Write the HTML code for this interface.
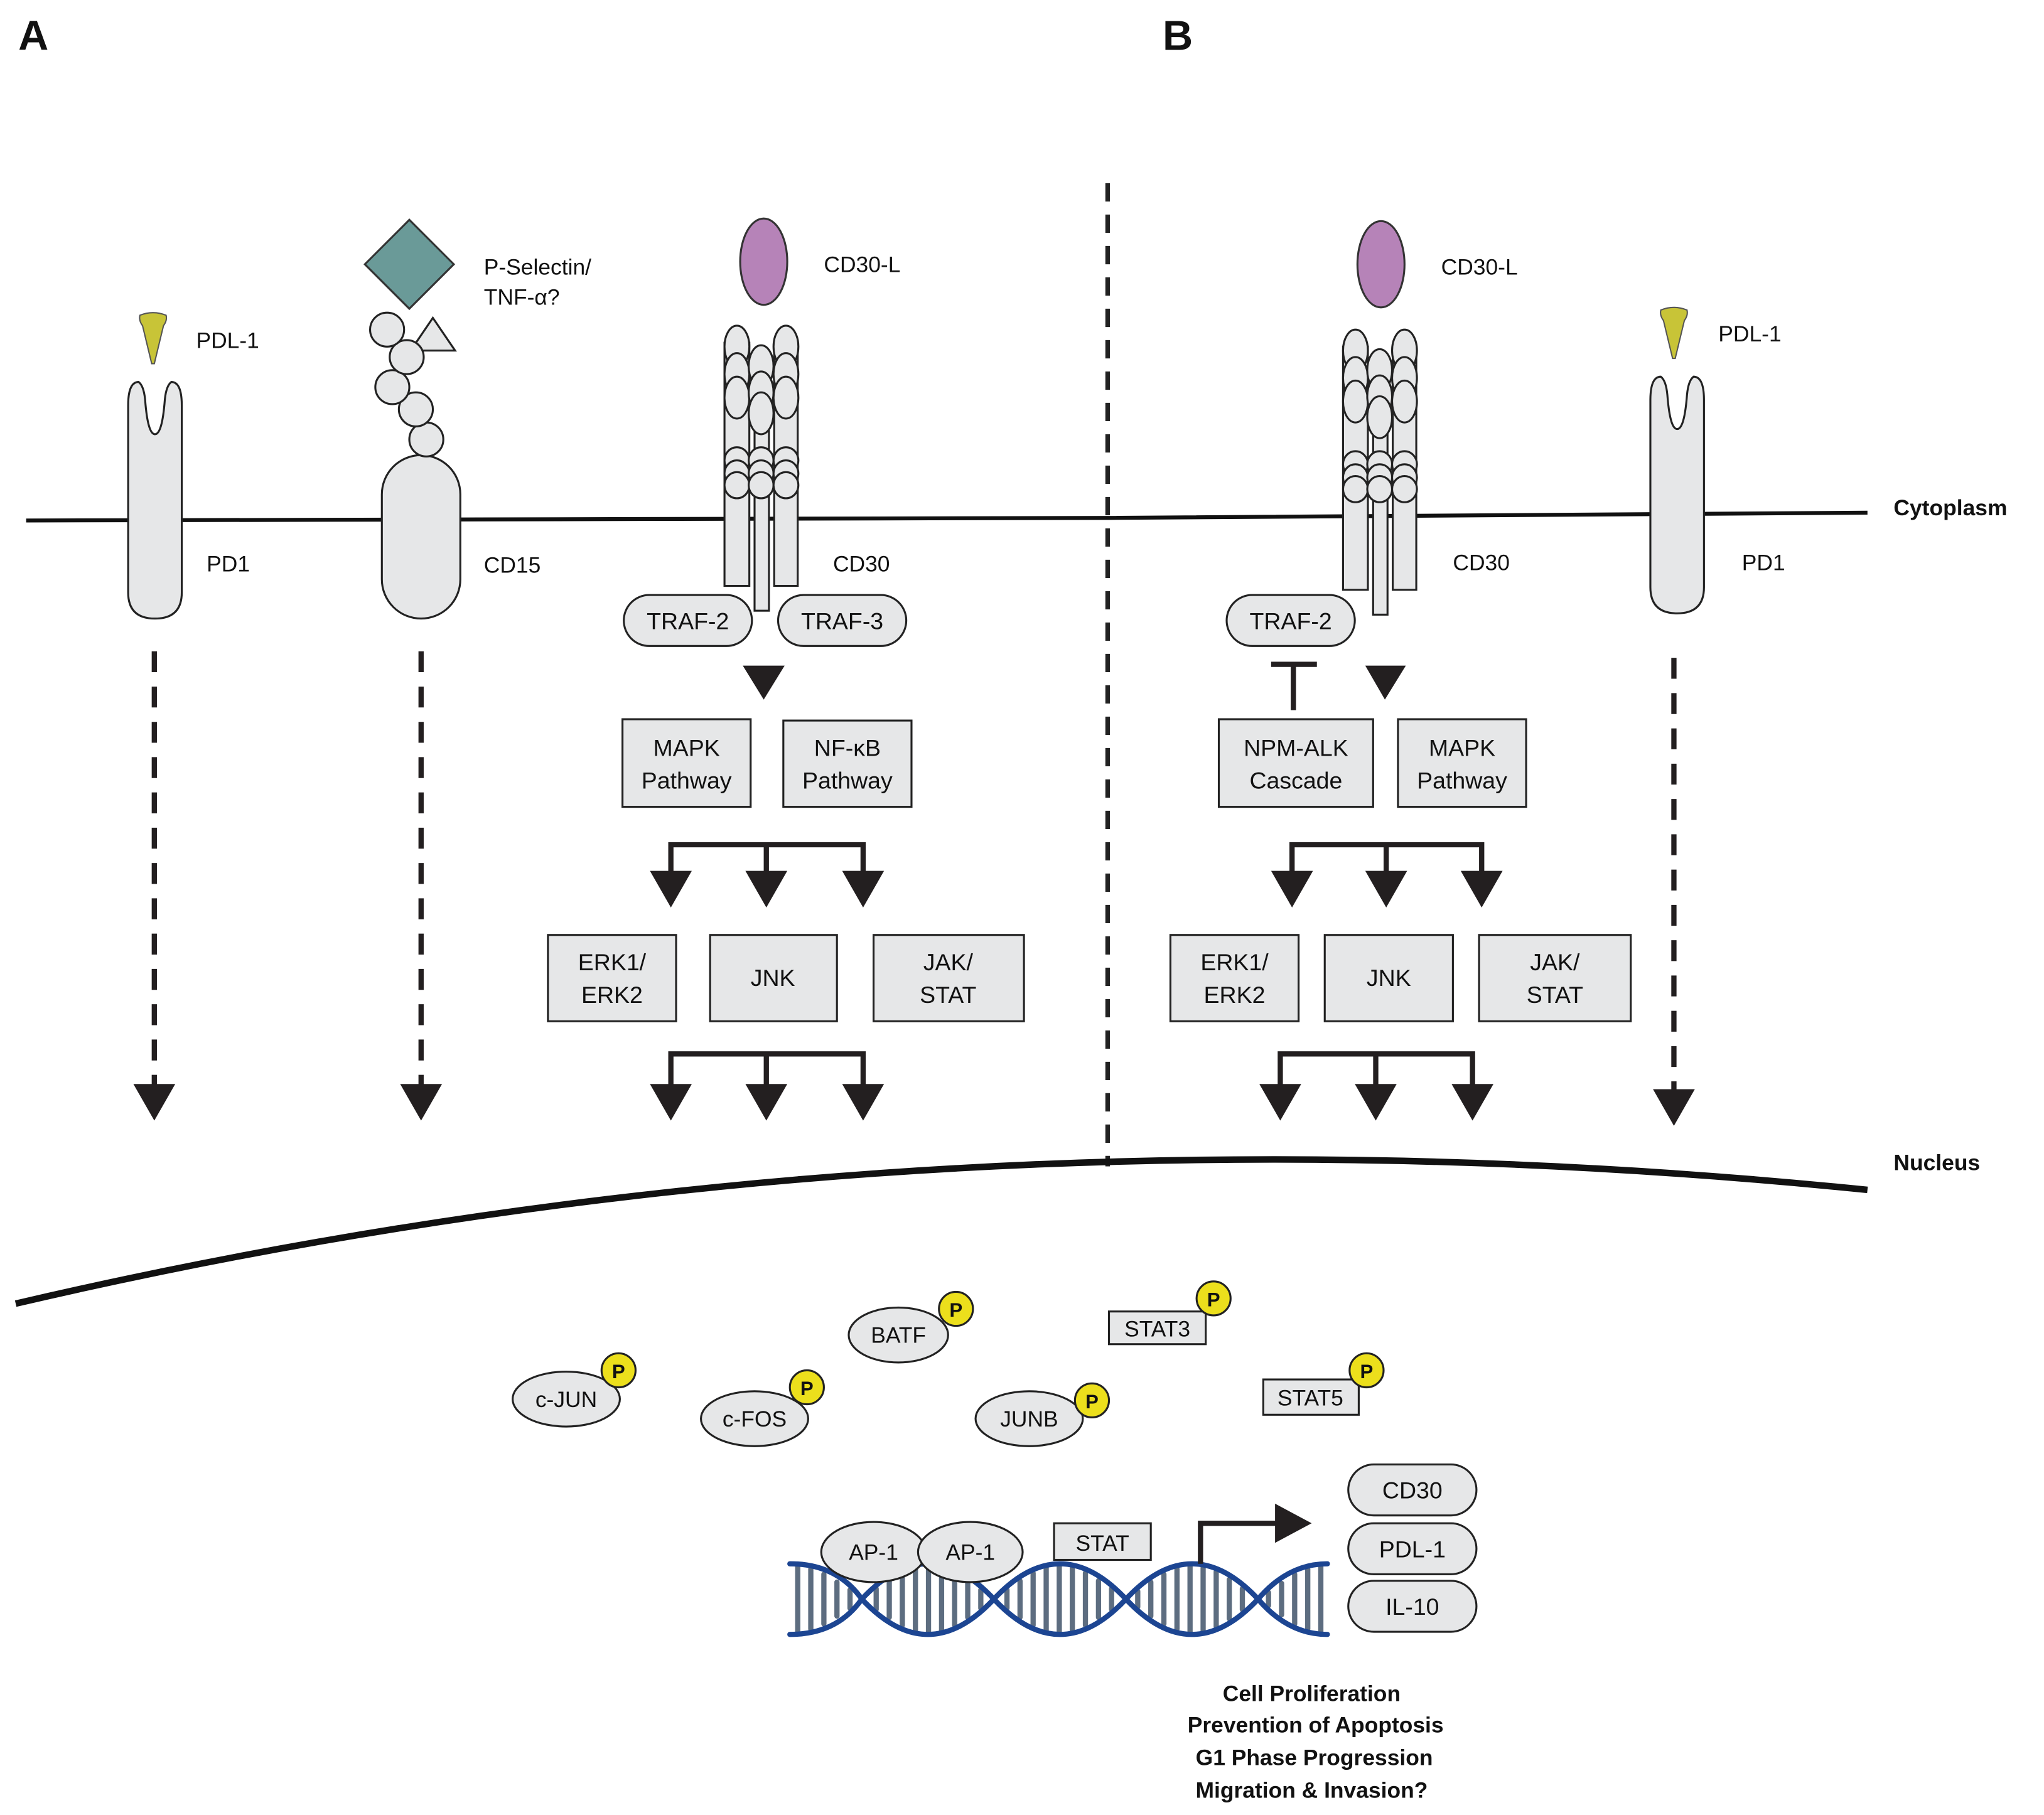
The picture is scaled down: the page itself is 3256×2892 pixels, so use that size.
<!DOCTYPE html>
<html><head><meta charset="utf-8"><style>
html,body{margin:0;padding:0;background:#fff;}
svg{display:block;}
text{font-family:"Liberation Sans",Arial,sans-serif;fill:#111;}
</style></head><body>
<svg width="3256" height="2892" viewBox="0 0 1563 1388" xmlns="http://www.w3.org/2000/svg">
<defs>
<g id="cd30">
 <rect x="554" y="262" width="19" height="186" fill="#e6e7e8" stroke="#222" stroke-width="1.5"/>
 <rect x="592" y="262" width="18" height="186" fill="#e6e7e8" stroke="#222" stroke-width="1.5"/>
 <rect x="577" y="290" width="11" height="177" fill="#e6e7e8" stroke="#222" stroke-width="1.5"/>
 <g fill="#e6e7e8" stroke="#222" stroke-width="1.5">
  <ellipse cx="563.5" cy="265" rx="9.5" ry="16"/><ellipse cx="601" cy="265" rx="9.5" ry="16"/>
  <ellipse cx="563.5" cy="286" rx="9.5" ry="16"/><ellipse cx="601" cy="286" rx="9.5" ry="16"/>
  <ellipse cx="582" cy="280" rx="9.5" ry="16"/>
  <ellipse cx="563.5" cy="304" rx="9.5" ry="16"/><ellipse cx="601" cy="304" rx="9.5" ry="16"/>
  <ellipse cx="582" cy="300" rx="9.5" ry="16"/>
  <ellipse cx="582" cy="316" rx="9.5" ry="16"/>
  <ellipse cx="563.5" cy="352" rx="9.5" ry="10"/><ellipse cx="582" cy="352" rx="9.5" ry="10"/><ellipse cx="601" cy="352" rx="9.5" ry="10"/>
  <ellipse cx="563.5" cy="362" rx="9.5" ry="10"/><ellipse cx="582" cy="362" rx="9.5" ry="10"/><ellipse cx="601" cy="362" rx="9.5" ry="10"/>
  <ellipse cx="563.5" cy="371" rx="9.5" ry="10"/><ellipse cx="582" cy="371" rx="9.5" ry="10"/><ellipse cx="601" cy="371" rx="9.5" ry="10"/>
 </g>
</g>
<path id="pd1" d="M0,161 L0,18 Q0,0 8,0 Q12,3 13,14 Q15,40 20.5,40 Q26,40 28,14 Q29,3 33,0 Q41,0 41,18 L41,161 Q41,181 20.5,181 Q0,181 0,161 Z" fill="#e6e7e8" stroke="#222" stroke-width="1.5"/>
<path id="pdl" d="M-10,0 Q0,-4 10,0 Q11,4 8,8 L1,37 L-1,37 L-8,8 Q-11,4 -10,0 Z" fill="#c8c437" stroke="#555" stroke-width="1"/>
<polygon id="ah" points="-16,0 16,0 0,28" fill="#231f20"/>
</defs>

<text x="14" y="38" font-size="32" font-weight="bold">A</text>
<text x="889" y="38" font-size="32" font-weight="bold">B</text>

<path d="M20,398 L850,396 L1428,392" stroke="#111" stroke-width="3" fill="none"/>
<text x="1448" y="394" font-size="17" font-weight="bold">Cytoplasm</text>
<line x1="847" y1="140" x2="847" y2="892" stroke="#222" stroke-width="3.5" stroke-dasharray="14,10"/>
<path d="M12,997 Q700,836 1428,910" stroke="#111" stroke-width="5" fill="none"/>
<text x="1448" y="895" font-size="17" font-weight="bold">Nucleus</text>

<use href="#pd1" x="98" y="292"/>
<use href="#pdl" x="117" y="241"/>
<text x="150" y="266" font-size="17">PDL-1</text>
<text x="158" y="437" font-size="17">PD1</text>

<rect x="292" y="348" width="60" height="125" rx="30" fill="#e6e7e8" stroke="#222" stroke-width="1.5"/>
<g fill="#e6e7e8" stroke="#222" stroke-width="1.5">
<circle cx="326" cy="336" r="13"/><circle cx="318" cy="313" r="13"/><circle cx="300" cy="296" r="13"/>
<polygon points="314,268 348,268 331,243"/>
<circle cx="311" cy="273" r="13"/><circle cx="296" cy="252" r="13"/>
</g>
<polygon points="313,168 347,202 313,236 279,202" fill="#6a9a98" stroke="#333" stroke-width="1.5"/>
<text x="370" y="210" font-size="17">P-Selectin/</text>
<text x="370" y="233" font-size="17">TNF-α?</text>
<text x="370" y="438" font-size="17">CD15</text>

<ellipse cx="584" cy="200" rx="18" ry="33" fill="#b683b8" stroke="#333" stroke-width="1.5"/>
<use href="#cd30"/>
<text x="630" y="208" font-size="17">CD30-L</text>
<text x="637" y="437" font-size="17">CD30</text>

<ellipse cx="1056" cy="202" rx="18" ry="33" fill="#b683b8" stroke="#333" stroke-width="1.5"/>
<use href="#cd30" x="473" y="3"/>
<text x="1102" y="210" font-size="17">CD30-L</text>
<text x="1111" y="436" font-size="17">CD30</text>

<use href="#pd1" x="1262" y="288"/>
<use href="#pdl" x="1280" y="237"/>
<text x="1314" y="261" font-size="17">PDL-1</text>
<text x="1332" y="436" font-size="17">PD1</text>

<g font-size="18" text-anchor="middle">
<rect x="477" y="455" width="98" height="39" rx="19.5" fill="#e6e7e8" stroke="#222" stroke-width="1.5"/>
<text x="526" y="481">TRAF-2</text>
<rect x="595" y="455" width="98" height="39" rx="19.5" fill="#e6e7e8" stroke="#222" stroke-width="1.5"/>
<text x="644" y="481">TRAF-3</text>
<polygon points="568,509 600,509 584,535" fill="#231f20"/>
<rect x="476" y="550" width="98" height="67" fill="#e6e7e8" stroke="#222" stroke-width="1.5"/>
<text x="525" y="578">MAPK</text><text x="525" y="603">Pathway</text>
<rect x="599" y="551" width="98" height="66" fill="#e6e7e8" stroke="#222" stroke-width="1.5"/>
<text x="648" y="578">NF-κB</text><text x="648" y="603">Pathway</text>
<path d="M513,668 L513,646 L660,646 L660,668 M586,646 L586,668" stroke="#231f20" stroke-width="4" fill="none"/>
<use href="#ah" x="513" y="666"/><use href="#ah" x="586" y="666"/><use href="#ah" x="660" y="666"/>
<rect x="419" y="715" width="98" height="66" fill="#e6e7e8" stroke="#222" stroke-width="1.5"/>
<text x="468" y="742">ERK1/</text><text x="468" y="767">ERK2</text>
<rect x="543" y="715" width="97" height="66" fill="#e6e7e8" stroke="#222" stroke-width="1.5"/>
<text x="591" y="754">JNK</text>
<rect x="668" y="715" width="115" height="66" fill="#e6e7e8" stroke="#222" stroke-width="1.5"/>
<text x="725" y="742">JAK/</text><text x="725" y="767">STAT</text>
<path d="M513,831 L513,806 L660,806 L660,831 M586,806 L586,831" stroke="#231f20" stroke-width="4" fill="none"/>
<use href="#ah" x="513" y="829"/><use href="#ah" x="586" y="829"/><use href="#ah" x="660" y="829"/>

<rect x="938" y="455" width="98" height="39" rx="19.5" fill="#e6e7e8" stroke="#222" stroke-width="1.5"/>
<text x="987" y="481">TRAF-2</text>
<path d="M989,543 L989,508 M972,508 L1007,508" stroke="#231f20" stroke-width="4" fill="none"/>
<polygon points="1044,509 1075,509 1059,535" fill="#231f20"/>
<rect x="932" y="550" width="118" height="67" fill="#e6e7e8" stroke="#222" stroke-width="1.5"/>
<text x="991" y="578">NPM-ALK</text><text x="991" y="603">Cascade</text>
<rect x="1069" y="550" width="98" height="67" fill="#e6e7e8" stroke="#222" stroke-width="1.5"/>
<text x="1118" y="578">MAPK</text><text x="1118" y="603">Pathway</text>
<path d="M988,668 L988,646 L1133,646 L1133,668 M1060,646 L1060,668" stroke="#231f20" stroke-width="4" fill="none"/>
<use href="#ah" x="988" y="666"/><use href="#ah" x="1060" y="666"/><use href="#ah" x="1133" y="666"/>
<rect x="895" y="715" width="98" height="66" fill="#e6e7e8" stroke="#222" stroke-width="1.5"/>
<text x="944" y="742">ERK1/</text><text x="944" y="767">ERK2</text>
<rect x="1013" y="715" width="98" height="66" fill="#e6e7e8" stroke="#222" stroke-width="1.5"/>
<text x="1062" y="754">JNK</text>
<rect x="1131" y="715" width="116" height="66" fill="#e6e7e8" stroke="#222" stroke-width="1.5"/>
<text x="1189" y="742">JAK/</text><text x="1189" y="767">STAT</text>
<path d="M979,831 L979,806 L1126,806 L1126,831 M1052,806 L1052,831" stroke="#231f20" stroke-width="4" fill="none"/>
<use href="#ah" x="979" y="829"/><use href="#ah" x="1052" y="829"/><use href="#ah" x="1126" y="829"/>
</g>

<g stroke="#231f20" stroke-width="4" stroke-dasharray="16,11">
<line x1="118" y1="498" x2="118" y2="830"/>
<line x1="322" y1="498" x2="322" y2="830"/>
<line x1="1280" y1="503" x2="1280" y2="834"/>
</g>
<use href="#ah" x="118" y="829"/><use href="#ah" x="322" y="829"/><use href="#ah" x="1280" y="833"/>

<g font-size="17" text-anchor="middle">
<ellipse cx="433" cy="1070" rx="41" ry="21" fill="#e6e7e8" stroke="#222" stroke-width="1.5"/><text x="433" y="1076">c-JUN</text>
<ellipse cx="577" cy="1085" rx="41" ry="21" fill="#e6e7e8" stroke="#222" stroke-width="1.5"/><text x="577" y="1091">c-FOS</text>
<ellipse cx="687" cy="1021" rx="38" ry="21" fill="#e6e7e8" stroke="#222" stroke-width="1.5"/><text x="687" y="1027">BATF</text>
<ellipse cx="787" cy="1085" rx="41" ry="21" fill="#e6e7e8" stroke="#222" stroke-width="1.5"/><text x="787" y="1091">JUNB</text>
<rect x="848" y="1003" width="74" height="25" fill="#e6e7e8" stroke="#222" stroke-width="1.5"/><text x="885" y="1022">STAT3</text>
<rect x="966" y="1055" width="73" height="27" fill="#e6e7e8" stroke="#222" stroke-width="1.5"/><text x="1002" y="1075">STAT5</text>
</g>
<g font-size="15" font-weight="bold" text-anchor="middle">
<circle cx="473" cy="1048" r="13" fill="#ecdf1c" stroke="#222" stroke-width="1.5"/><text x="473" y="1054">P</text>
<circle cx="617" cy="1061" r="13" fill="#ecdf1c" stroke="#222" stroke-width="1.5"/><text x="617" y="1067">P</text>
<circle cx="731" cy="1001" r="13" fill="#ecdf1c" stroke="#222" stroke-width="1.5"/><text x="731" y="1007">P</text>
<circle cx="835" cy="1071" r="13" fill="#ecdf1c" stroke="#222" stroke-width="1.5"/><text x="835" y="1077">P</text>
<circle cx="928" cy="993" r="13" fill="#ecdf1c" stroke="#222" stroke-width="1.5"/><text x="928" y="999">P</text>
<circle cx="1045" cy="1048" r="13" fill="#ecdf1c" stroke="#222" stroke-width="1.5"/><text x="1045" y="1054">P</text>
</g>

<g stroke="#5d6d80" stroke-width="4" stroke-linecap="round">
<line x1="610" y1="1198" x2="610" y2="1248"/>
<line x1="620" y1="1200" x2="620" y2="1246"/>
<line x1="630" y1="1204" x2="630" y2="1242"/>
<line x1="640" y1="1210" x2="640" y2="1236"/>
<line x1="650" y1="1216" x2="650" y2="1230"/>
<line x1="670" y1="1215" x2="670" y2="1231"/>
<line x1="680" y1="1209" x2="680" y2="1237"/>
<line x1="690" y1="1203" x2="690" y2="1243"/>
<line x1="700" y1="1199" x2="700" y2="1247"/>
<line x1="710" y1="1198" x2="710" y2="1248"/>
<line x1="720" y1="1199" x2="720" y2="1247"/>
<line x1="730" y1="1203" x2="730" y2="1243"/>
<line x1="740" y1="1209" x2="740" y2="1237"/>
<line x1="750" y1="1216" x2="750" y2="1230"/>
<line x1="770" y1="1216" x2="770" y2="1230"/>
<line x1="780" y1="1209" x2="780" y2="1237"/>
<line x1="790" y1="1203" x2="790" y2="1243"/>
<line x1="800" y1="1199" x2="800" y2="1247"/>
<line x1="810" y1="1198" x2="810" y2="1248"/>
<line x1="820" y1="1199" x2="820" y2="1247"/>
<line x1="830" y1="1203" x2="830" y2="1243"/>
<line x1="840" y1="1209" x2="840" y2="1237"/>
<line x1="850" y1="1215" x2="850" y2="1231"/>
<line x1="870" y1="1217" x2="870" y2="1229"/>
<line x1="880" y1="1210" x2="880" y2="1236"/>
<line x1="890" y1="1204" x2="890" y2="1242"/>
<line x1="900" y1="1200" x2="900" y2="1246"/>
<line x1="910" y1="1198" x2="910" y2="1248"/>
<line x1="920" y1="1199" x2="920" y2="1247"/>
<line x1="930" y1="1202" x2="930" y2="1244"/>
<line x1="940" y1="1208" x2="940" y2="1238"/>
<line x1="950" y1="1215" x2="950" y2="1231"/>
<line x1="970" y1="1218" x2="970" y2="1228"/>
<line x1="980" y1="1211" x2="980" y2="1235"/>
<line x1="990" y1="1204" x2="990" y2="1242"/>
<line x1="1000" y1="1200" x2="1000" y2="1246"/>
<line x1="1010" y1="1198" x2="1010" y2="1248"/>
</g>
<g stroke="#1c4592" stroke-width="4" fill="none" stroke-linecap="round">
<path d="M604,1196 Q640,1196 659,1223 Q709.5,1277 760,1223 Q810.5,1169 861,1223 Q911.5,1277 962,1223 Q985,1196 1015,1196"/>
<path d="M604,1250 Q640,1250 659,1223 Q709.5,1169 760,1223 Q810.5,1277 861,1223 Q911.5,1169 962,1223 Q985,1250 1015,1250"/>
</g>

<g font-size="17" text-anchor="middle">
<ellipse cx="668" cy="1187" rx="40" ry="23" fill="#e6e7e8" stroke="#222" stroke-width="1.5"/><text x="668" y="1193">AP-1</text>
<ellipse cx="742" cy="1187" rx="40" ry="23" fill="#e6e7e8" stroke="#222" stroke-width="1.5"/><text x="742" y="1193">AP-1</text>
<rect x="806" y="1165" width="74" height="28" fill="#e6e7e8" stroke="#222" stroke-width="1.5"/><text x="843" y="1186">STAT</text>
</g>
<path d="M918,1196 L918,1165 L978,1165" stroke="#231f20" stroke-width="4" fill="none"/>
<polygon points="975,1150 1003,1165 975,1180" fill="#231f20"/>

<g font-size="18" text-anchor="middle">
<rect x="1031" y="1120" width="98" height="39" rx="19.5" fill="#e6e7e8" stroke="#222" stroke-width="1.5"/><text x="1080" y="1146">CD30</text>
<rect x="1031" y="1165" width="98" height="39" rx="19.5" fill="#e6e7e8" stroke="#222" stroke-width="1.5"/><text x="1080" y="1191">PDL-1</text>
<rect x="1031" y="1209" width="98" height="39" rx="19.5" fill="#e6e7e8" stroke="#222" stroke-width="1.5"/><text x="1080" y="1235">IL-10</text>
</g>
<g font-size="17" font-weight="bold" text-anchor="middle">
<text x="1003" y="1301">Cell Proliferation</text>
<text x="1006" y="1325">Prevention of Apoptosis</text>
<text x="1005" y="1350">G1 Phase Progression</text>
<text x="1003" y="1375">Migration &amp; Invasion?</text>
</g>
</svg>
</body></html>
